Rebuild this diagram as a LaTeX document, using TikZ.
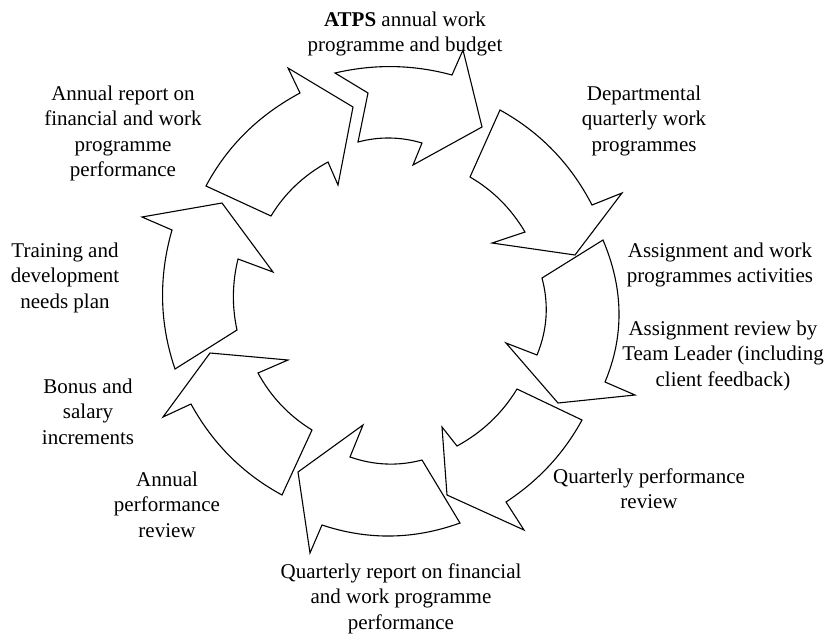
\documentclass[tikz,border=0pt]{standalone}
\usepackage{fontspec}
\setmainfont{Liberation Serif}
\usetikzlibrary{calc}
\newcommand\cycarrow[9]{%
  \draw[cyc] (#1) .. controls ($(#1)!2/3!(#2)$) and ($(#3)!2/3!(#2)$) .. (#3)
    -- (#4) -- (#5) -- (#6) -- (#7)
    .. controls ($(#7)!2/3!(#8)$) and ($(#9)!2/3!(#8)$) .. (#9) -- cycle;}
\begin{document}
\begin{tikzpicture}[x=1pt,y=-1pt,
  cyc/.style={draw=black, line width=1.1pt, fill=white, line join=miter},
  lab/.style={anchor=north, inner sep=0pt, align=center, font=\fontsize{21}{25.5}\selectfont}]
\useasboundingbox (0,0) rectangle (825,633);
% top arrow (with notched tail)
\draw[cyc] (335,73) .. controls ($(335,73)!2/3!(393.9,59.2)$) and ($(452,75)!2/3!(393.9,59.2)$) .. (452,75)
  -- (463,50) -- (482,127) -- (413,165) -- (422,143)
  .. controls ($(422,143)!2/3!(390,133.5)$) and ($(358,142)!2/3!(390,133.5)$) .. (358,142)
  -- (368,93) -- cycle;
\cycarrow{500,110}{560.2,143.3}{592,205}{622,193}{575,255}{492,243}{525,232}{504.3,196.9}{470,177}
\cycarrow{603,240}{634,313}{605,382}{635,395}{558,403}{506,343}{537,355}{552.5,317.5}{542,278}
\cycarrow{582,420}{554.8,470}{506,502}{524,530}{447,495}{442,427}{457,446}{495,425.3}{517,389}
\cycarrow{460,523}{391,548}{322,525}{310,553}{298,472}{363,425}{350,457}{386,469.5}{422,460}
\cycarrow{282,495}{223.5,463.3}{191,404}{163,417}{210,353}{288,360}{258,373}{277.4,408.7}{312,430}
\cycarrow{175,369}{151.7,300.7}{172,230}{142,217}{222,203}{273,272}{238,259}{229.3,294.7}{237,330}
\cycarrow{206,186}{237.8,126.3}{300,93}{288,68}{353,107}{338,185}{328,162}{291.7,181.8}{271,216}
% labels (y = first baseline - 17.85)
\node[lab] (atps) at (405,8.15) {\strut\textbf{ATPS} annual work\\programme and budget};
\node[lab] (dept) at (644,82.15) {\strut Departmental\\quarterly work\\programmes};
\node[lab] (assign) at (720,239.15) {\strut Assignment and work\\programmes activities};
\node[lab] (review) at (723,317.15) {\strut Assignment review by\\Team Leader (including\\client feedback)};
\node[lab] (qperf) at (649,465.15) {\strut Quarterly performance\\review};
\node[lab] (qrep) at (401,560.15) {\strut Quarterly report on financial\\and work programme\\performance};
\node[lab] (aperf) at (167,468.15) {\strut Annual\\performance\\review};
\node[lab] (bonus) at (88,375.15) {\strut Bonus and\\salary\\increments};
\node[lab] (train) at (65,239.15) {\strut Training and\\development\\needs plan};
\node[lab] (arep) at (123,82.15) {\strut Annual report on\\financial and work\\programme\\performance};
\end{tikzpicture}
\end{document}
